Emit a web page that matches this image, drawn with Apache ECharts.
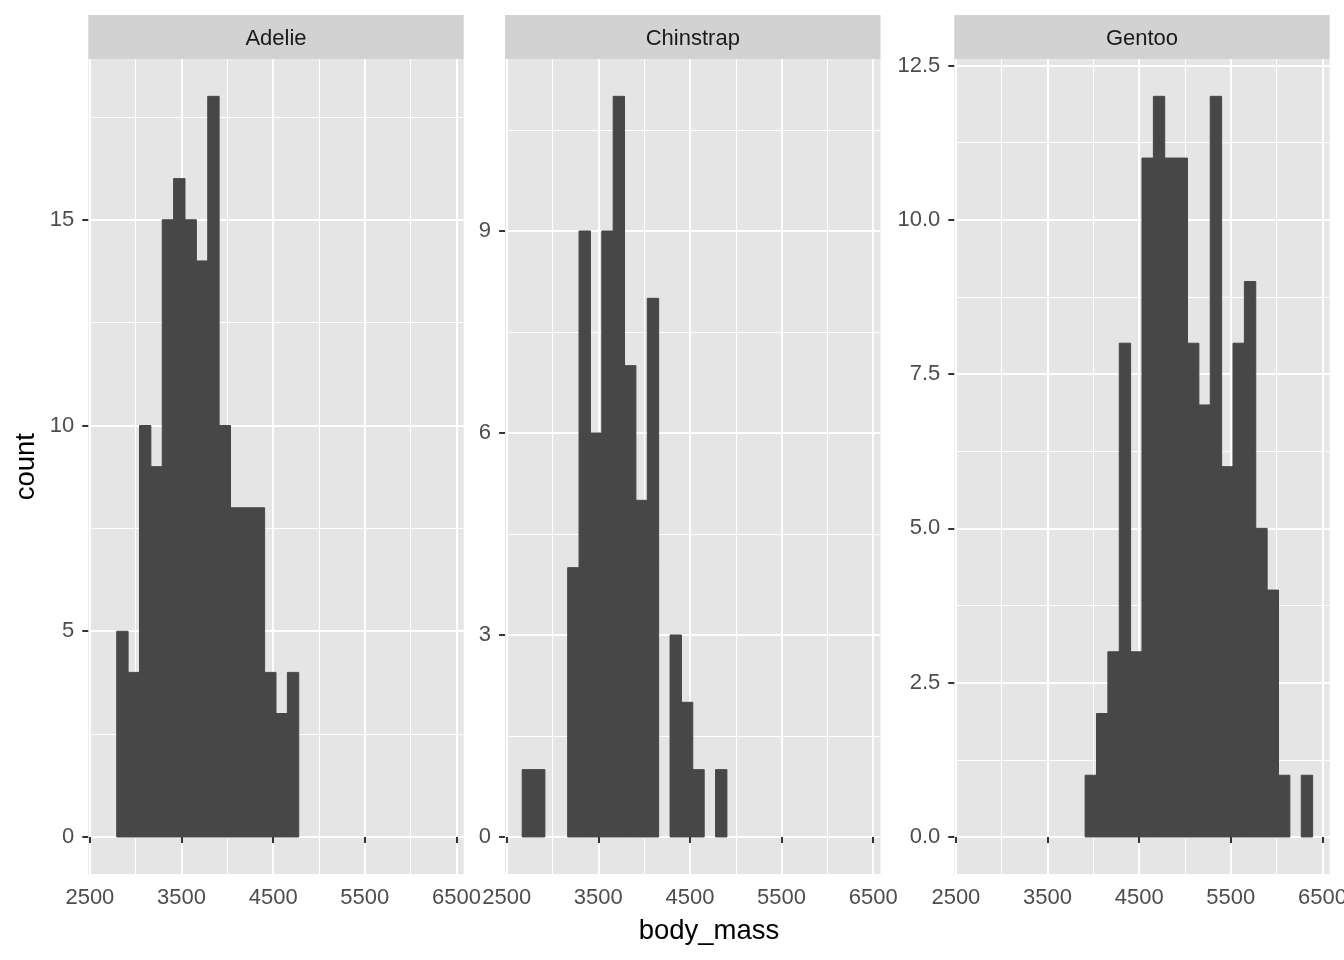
<!DOCTYPE html>
<html>
<head>
<meta charset="utf-8">
<script src="https://cdn.jsdelivr.net/npm/echarts@6/dist/echarts.min.js"></script>
<style>
html,body{margin:0;padding:0;background:#fff;}
#chart{width:1344px;height:960px;}
</style>
</head>
<body>
<div id="chart"></div>
<script>
// ---- data ----
const species = ['Adelie', 'Chinstrap', 'Gentoo'];
const binEdges = [2669.0, 2793.1, 2917.2, 3041.4, 3165.5, 3289.7, 3413.8, 3537.9, 3662.1, 3786.2,
  3910.3, 4034.5, 4158.6, 4282.8, 4406.9, 4531.0, 4655.2, 4779.3, 4903.4, 5027.6,
  5151.7, 5275.9, 5400.0, 5524.1, 5648.3, 5772.4, 5896.6, 6020.7, 6144.8, 6269.0, 6393.1];
const countsAdelie = [0,5,4,10,9,15,16,15,14,18,10,8,8,8,4,3,4,0,0,0,0,0,0,0,0,0,0,0,0,0];
const countsChinstrap = [1,1,0,0,4,9,6,9,11,7,5,8,0,3,2,1,0,1,0,0,0,0,0,0,0,0,0,0,0,0];
const countsGentoo = [0,0,0,0,0,0,0,0,0,0,1,2,3,8,3,11,12,11,11,8,7,12,6,8,9,5,4,1,0,1];
const xTicks = [2500, 3500, 4500, 5500, 6500];
const xMinor = [3000, 4000, 5000, 6000];
const yTicksAdelie = [0, 5, 10, 15];
const yMinorAdelie = [2.5, 7.5, 12.5, 17.5];
const yTicksChinstrap = [0, 3, 6, 9];
const yMinorChinstrap = [1.5, 4.5, 7.5, 10.5];
const yTicksGentoo = [0, 2.5, 5, 7.5, 10, 12.5];
const yMinorGentoo = [1.25, 3.75, 6.25, 8.75, 11.25];

// ---- layout ----
const FONT = '"Liberation Sans", Arial, Helvetica, sans-serif';
const panelTop = 59.3, panelBottom = 874, panelW = 375.4;
const panelLefts = [88.3, 505.1, 954.3];
const stripTop = 15;
const PANEL_BG = '#E5E5E5', STRIP_BG = '#D2D2D2', BAR = '#474747';

const allCounts = [countsAdelie, countsChinstrap, countsGentoo];
const yTicks = [yTicksAdelie, yTicksChinstrap, yTicksGentoo];
const yMinor = [yMinorAdelie, yMinorChinstrap, yMinorGentoo];
const yDecimals = [0, 0, 1];

const xLo = binEdges[0], xHi = binEdges[binEdges.length - 1];
const xPad = 0.05 * (xHi - xLo);

const grids = [], xAxes = [], yAxes = [], series = [], graphics = [];
species.forEach(function (sp, i) {
  grids.push({
    left: panelLefts[i], top: panelTop, width: panelW, height: panelBottom - panelTop,
    show: true, backgroundColor: PANEL_BG, borderWidth: 0, outerBoundsMode: 'none'
  });
  xAxes.push({
    type: 'value', gridIndex: i, min: xLo - xPad, max: xHi + xPad,
    axisLine: { show: false },
    axisTick: { show: true, customValues: xTicks, length: 6, lineStyle: { color: '#333333', width: 2 } },
    axisLabel: { show: true, customValues: xTicks, margin: 13, color: '#4D4D4D', fontSize: 22, fontFamily: FONT,
      formatter: function (v) { return String(Math.round(v)); } },
    splitLine: { show: true, lineStyle: { color: '#FFFFFF', width: 2 } }
  });
  const counts = allCounts[i];
  const maxC = Math.max.apply(null, counts);
  const dec = yDecimals[i];
  yAxes.push({
    type: 'value', gridIndex: i, min: -0.05 * maxC, max: maxC * 1.05,
    axisLine: { show: false },
    axisTick: { show: true, customValues: yTicks[i], length: 6, lineStyle: { color: '#333333', width: 2 } },
    axisLabel: { show: true, customValues: yTicks[i], margin: 14, color: '#4D4D4D', fontSize: 22, fontFamily: FONT,
      formatter: function (v) { return Number(v).toFixed(dec); } },
    splitLine: { show: true, lineStyle: { color: '#FFFFFF', width: 2 } }
  });
  const data = [];
  counts.forEach(function (c, k) {
    if (c > 0) data.push([binEdges[k], binEdges[k + 1], c]);
  });
  const minorLines = xMinor.map(function (v) { return { xAxis: v }; })
    .concat(yMinor[i].map(function (v) { return { yAxis: v }; }));
  series.push({
    type: 'custom', name: sp, xAxisIndex: i, yAxisIndex: i, z: 3,
    encode: { x: [0, 1], y: 2 },
    data: data,
    animation: false,
    renderItem: function (params, api) {
      const p0 = api.coord([api.value(0), 0]);
      const p1 = api.coord([api.value(1), api.value(2)]);
      return {
        type: 'rect',
        shape: { x: p0[0], y: p1[1], width: p1[0] - p0[0], height: p0[1] - p1[1] },
        style: { fill: BAR, stroke: BAR, lineWidth: 1 }
      };
    },
    markLine: {
      silent: true, symbol: ['none', 'none'], z: 1, animation: false,
      label: { show: false },
      lineStyle: { color: '#FFFFFF', width: 1, type: 'solid' },
      emphasis: { disabled: true },
      data: minorLines
    }
  });
  graphics.push({
    type: 'rect', left: panelLefts[i], top: stripTop, silent: true,
    shape: { width: panelW, height: panelTop - stripTop },
    style: { fill: STRIP_BG }
  });
  graphics.push({
    type: 'text', x: panelLefts[i] + panelW / 2, y: 38.5, silent: true,
    style: { text: sp, fill: '#1A1A1A', fontSize: 22, fontFamily: FONT, align: 'center', verticalAlign: 'middle' }
  });
});

graphics.push({
  type: 'text', x: (panelLefts[0] + panelLefts[2] + panelW) / 2, y: 931, silent: true,
  style: { text: 'body_mass', fill: '#000000', fontSize: 27.5, fontFamily: FONT, align: 'center', verticalAlign: 'middle' }
});
graphics.push({
  type: 'text', x: 26, y: (panelTop + panelBottom) / 2, rotation: Math.PI / 2, silent: true,
  style: { text: 'count', fill: '#000000', fontSize: 27.5, fontFamily: FONT, align: 'center', verticalAlign: 'middle' }
});

const chart = echarts.init(document.getElementById('chart'), null, { renderer: 'canvas' });
chart.setOption({
  backgroundColor: '#FFFFFF',
  animation: false,
  grid: grids,
  xAxis: xAxes,
  yAxis: yAxes,
  series: series,
  graphic: graphics
});
</script>
</body>
</html>
